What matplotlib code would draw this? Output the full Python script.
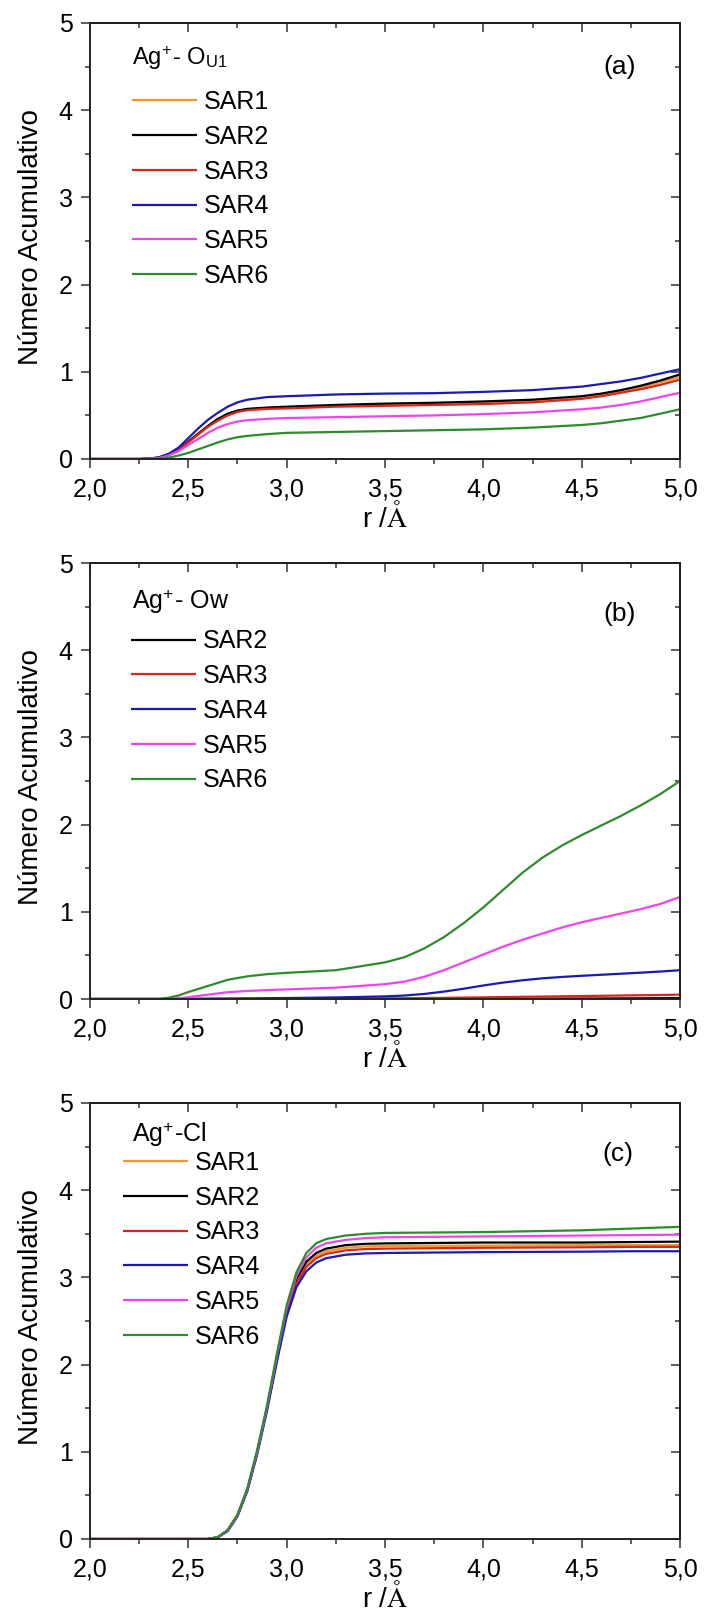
import matplotlib
matplotlib.use("Agg")
import matplotlib.pyplot as plt
from matplotlib.ticker import FixedLocator, MultipleLocator

plt.rcParams['font.family'] = ['Liberation Sans', 'DejaVu Sans']
plt.rcParams['mathtext.fontset'] = 'stix'

# ---------------- data ----------------
series_names = ['SAR1', 'SAR2', 'SAR3', 'SAR4', 'SAR5', 'SAR6']
series_colors = {'SAR1': '#F0962E', 'SAR2': '#000000', 'SAR3': '#D9261C',
                 'SAR4': '#1A1AB4', 'SAR5': '#EE44EE', 'SAR6': '#2E8B2E'}

xtick_values = [2.0, 2.5, 3.0, 3.5, 4.0, 4.5, 5.0]
xtick_labels = ['2,0', '2,5', '3,0', '3,5', '4,0', '4,5', '5,0']
ytick_values = [0, 1, 2, 3, 4, 5]
ytick_labels = ['0', '1', '2', '3', '4', '5']

# Panel (a): Ag+ - O_U1
r_a = [2.0, 2.25, 2.3, 2.35, 2.4, 2.45, 2.5, 2.55, 2.6, 2.65, 2.7, 2.75, 2.8,
       2.9, 3.0, 3.25, 3.5, 3.75, 4.0, 4.25, 4.5, 4.6, 4.7, 4.8, 4.9, 5.0]
a_sar1 = [0, 0, 0.004, 0.015, 0.05, 0.11, 0.2, 0.29, 0.375, 0.45, 0.51, 0.55, 0.57,
          0.585, 0.59, 0.61, 0.625, 0.635, 0.65, 0.67, 0.71, 0.74, 0.78, 0.82, 0.88, 0.94]
a_sar2 = [0, 0, 0.004, 0.015, 0.05, 0.11, 0.2, 0.29, 0.38, 0.46, 0.52, 0.555, 0.575,
          0.59, 0.6, 0.62, 0.635, 0.645, 0.66, 0.68, 0.72, 0.75, 0.79, 0.84, 0.9, 0.97]
a_sar3 = [0, 0, 0.004, 0.015, 0.05, 0.11, 0.19, 0.28, 0.37, 0.44, 0.5, 0.54, 0.56,
          0.575, 0.58, 0.6, 0.61, 0.62, 0.63, 0.65, 0.69, 0.72, 0.76, 0.8, 0.85, 0.91]
a_sar4 = [0, 0, 0.005, 0.02, 0.06, 0.13, 0.24, 0.35, 0.45, 0.53, 0.6, 0.65, 0.68,
          0.71, 0.72, 0.74, 0.75, 0.755, 0.77, 0.79, 0.83, 0.86, 0.89, 0.93, 0.98, 1.03]
a_sar5 = [0, 0, 0.003, 0.012, 0.04, 0.09, 0.16, 0.23, 0.3, 0.36, 0.4, 0.43, 0.445,
          0.46, 0.47, 0.48, 0.49, 0.5, 0.515, 0.535, 0.57, 0.59, 0.62, 0.66, 0.71, 0.76]
a_sar6 = [0, 0, 0, 0.005, 0.015, 0.04, 0.07, 0.11, 0.15, 0.19, 0.225, 0.25, 0.265,
          0.285, 0.3, 0.31, 0.32, 0.33, 0.34, 0.36, 0.39, 0.41, 0.44, 0.47, 0.52, 0.57]

# Panel (b): Ag+ - Ow
r_b = [2.0, 2.3, 2.35, 2.4, 2.45, 2.5, 2.6, 2.7, 2.8, 2.9, 3.0, 3.25, 3.5, 3.6, 3.7,
       3.8, 3.9, 4.0, 4.1, 4.2, 4.3, 4.4, 4.5, 4.6, 4.7, 4.8, 4.9, 5.0]
b_sar2 = [0, 0, 0, 0, 0, 0, 0, 0, 0, 0, 0, 0, 0, 0, 0, 0, 0.001, 0.002, 0.002, 0.003,
          0.004, 0.005, 0.005, 0.006, 0.007, 0.008, 0.009, 0.01]
b_sar3 = [0, 0, 0, 0, 0, 0, 0, 0, 0, 0, 0.002, 0.004, 0.007, 0.009, 0.011, 0.013, 0.016,
          0.019, 0.022, 0.025, 0.028, 0.031, 0.034, 0.037, 0.04, 0.043, 0.046, 0.05]
b_sar4 = [0, 0, 0, 0, 0, 0.001, 0.003, 0.005, 0.007, 0.009, 0.011, 0.018, 0.03, 0.04,
          0.058, 0.085, 0.118, 0.155, 0.188, 0.215, 0.237, 0.253, 0.266, 0.278, 0.29,
          0.302, 0.315, 0.33]
b_sar5 = [0, 0, 0, 0, 0.008, 0.02, 0.05, 0.078, 0.092, 0.102, 0.11, 0.13, 0.17, 0.2,
          0.255, 0.33, 0.42, 0.51, 0.6, 0.68, 0.75, 0.82, 0.88, 0.93, 0.98, 1.03, 1.09,
          1.17]
b_sar6 = [0, 0, 0, 0.015, 0.04, 0.08, 0.15, 0.22, 0.26, 0.285, 0.3, 0.33, 0.42, 0.48,
          0.58, 0.71, 0.87, 1.05, 1.25, 1.45, 1.62, 1.76, 1.88, 1.99, 2.1, 2.22, 2.35, 2.5]

# Panel (c): Ag+ - Cl
r_c = [2.0, 2.6, 2.65, 2.7, 2.75, 2.8, 2.85, 2.9, 2.95, 3.0, 3.05, 3.1, 3.15, 3.2,
       3.3, 3.4, 3.5, 4.0, 4.5, 4.75, 5.0]
c_sar1 = [0, 0, 0.02, 0.1, 0.27, 0.56, 0.99, 1.5, 2.07, 2.6, 2.95, 3.15, 3.25, 3.3,
          3.34, 3.355, 3.36, 3.365, 3.37, 3.37, 3.37]
c_sar2 = [0, 0, 0.02, 0.1, 0.27, 0.57, 1.0, 1.5, 2.08, 2.62, 2.98, 3.18, 3.28, 3.33,
          3.37, 3.385, 3.39, 3.4, 3.4, 3.405, 3.41]
c_sar3 = [0, 0, 0.02, 0.1, 0.27, 0.56, 0.99, 1.49, 2.06, 2.58, 2.93, 3.12, 3.22, 3.27,
          3.31, 3.325, 3.33, 3.34, 3.345, 3.35, 3.35]
c_sar4 = [0, 0, 0.02, 0.09, 0.26, 0.55, 0.97, 1.47, 2.03, 2.55, 2.89, 3.07, 3.17, 3.22,
          3.26, 3.275, 3.28, 3.29, 3.295, 3.3, 3.3]
c_sar5 = [0, 0, 0.02, 0.1, 0.27, 0.57, 1.0, 1.51, 2.1, 2.65, 3.02, 3.23, 3.34, 3.39,
          3.43, 3.45, 3.46, 3.47, 3.48, 3.485, 3.49]
c_sar6 = [0, 0, 0.02, 0.1, 0.28, 0.58, 1.02, 1.53, 2.12, 2.68, 3.06, 3.28, 3.39, 3.44,
          3.48, 3.5, 3.51, 3.52, 3.54, 3.56, 3.58]

panels = [
    dict(r=r_a, data={'SAR1': a_sar1, 'SAR2': a_sar2, 'SAR3': a_sar3,
                      'SAR4': a_sar4, 'SAR5': a_sar5, 'SAR6': a_sar6},
         title=r'Ag$^{\mathregular{+}}$- O$_{\mathregular{U1}}$', tag='(a)'),
    dict(r=r_b, data={'SAR2': b_sar2, 'SAR3': b_sar3, 'SAR4': b_sar4,
                      'SAR5': b_sar5, 'SAR6': b_sar6},
         title=r'Ag$^{\mathregular{+}}$- Ow', tag='(b)'),
    dict(r=r_c, data={'SAR1': c_sar1, 'SAR2': c_sar2, 'SAR3': c_sar3,
                      'SAR4': c_sar4, 'SAR5': c_sar5, 'SAR6': c_sar6},
         title=r'Ag$^{\mathregular{+}}$-Cl', tag='(c)'),
]

# ---------------- layout ----------------
W, H = 704, 1614
fig = plt.figure(figsize=(W / 100, H / 100), dpi=100)
left_px, right_px = 90, 680
tops_px = [23, 563, 1103]
height_px = 436

title_pos = [(0.0712, 0.9037), (0.0712, 0.8945), (0.0712, 0.9106)]
title_size = [17, 18, 18]
legend_anchor = [(0.0712, 0.846), (0.0695, 0.848), (0.0559, 0.890)]
tag_pos = [(0.898, 0.899), (0.898, 0.883), (0.895, 0.883)]

for i, p in enumerate(panels):
    ax = fig.add_axes([left_px / W, 1 - (tops_px[i] + height_px) / H,
                       (right_px - left_px) / W, height_px / H])
    for name in series_names:
        if name in p['data']:
            ax.plot(p['r'], p['data'][name], color=series_colors[name], lw=1.6,
                    label=name, solid_capstyle='butt')
    ax.set_xlim(2.0, 5.0)
    ax.set_ylim(0, 5)
    ax.xaxis.set_major_locator(FixedLocator(xtick_values))
    ax.set_xticklabels(xtick_labels)
    ax.xaxis.set_minor_locator(MultipleLocator(0.25))
    ax.yaxis.set_major_locator(FixedLocator(ytick_values))
    ax.set_yticklabels(ytick_labels)
    ax.yaxis.set_minor_locator(MultipleLocator(0.5))
    ax.tick_params(which='major', direction='out', length=6.5, width=1.1,
                   labelsize=18, color='#333333')
    ax.tick_params(axis='x', which='major', pad=7)
    ax.tick_params(axis='y', which='major', pad=6)
    ax.tick_params(which='minor', direction='out', length=3.6, width=1.1, color='#333333')
    for s in ax.spines.values():
        s.set_linewidth(1.4)
        s.set_color('#222222')

    top = ax.secondary_xaxis('top')
    top.xaxis.set_major_locator(FixedLocator(xtick_values))
    top.xaxis.set_minor_locator(MultipleLocator(0.25))
    top.tick_params(which='major', direction='in', length=6.5, width=1.1,
                    labeltop=False, color='#333333')
    top.tick_params(which='minor', direction='in', length=3.6, width=1.1, color='#333333')
    top.spines['top'].set_linewidth(1.4)
    rgt = ax.secondary_yaxis('right')
    rgt.yaxis.set_major_locator(FixedLocator(ytick_values))
    rgt.yaxis.set_minor_locator(MultipleLocator(0.5))
    rgt.tick_params(which='major', direction='in', length=6.5, width=1.1,
                    labelright=False, color='#333333')
    rgt.tick_params(which='minor', direction='in', length=3.6, width=1.1, color='#333333')
    rgt.spines['right'].set_linewidth(1.4)

    ax.set_ylabel('Número Acumulativo', fontsize=20)
    ax.yaxis.set_label_coords(-0.078, 0.51)
    ax.set_xlabel(r'r /$\mathrm{\AA}$', fontsize=20)
    ax.xaxis.set_label_coords(0.5, -0.098)

    ax.text(title_pos[i][0], title_pos[i][1], p['title'], transform=ax.transAxes,
            fontsize=title_size[i], ha='left', va='baseline')
    ax.text(tag_pos[i][0], tag_pos[i][1], p['tag'], transform=ax.transAxes,
            fontsize=19, ha='center', va='center')
    ax.legend(loc='upper left', bbox_to_anchor=legend_anchor[i], frameon=False,
              fontsize=18, handlelength=2.6, handletextpad=0.28, labelspacing=0.43,
              borderpad=0, borderaxespad=0)

fig.savefig('out.png', dpi=100)
